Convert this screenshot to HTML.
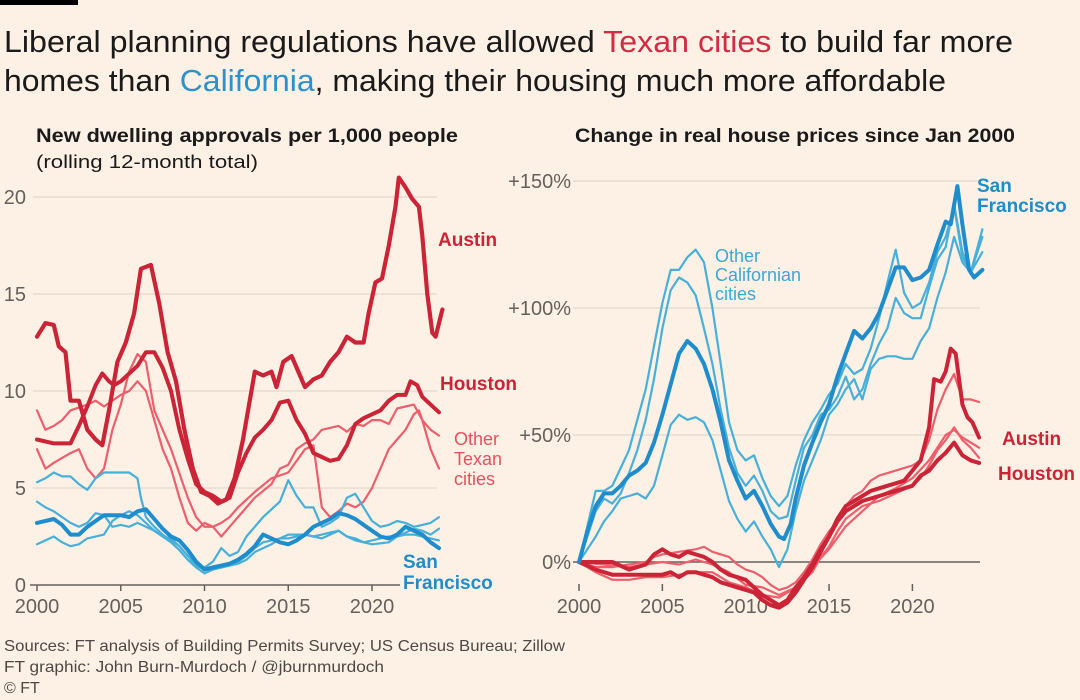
<!DOCTYPE html>
<html><head><meta charset="utf-8"><style>
body{margin:0;background:#fdf1e6;width:1080px;height:700px;overflow:hidden;font-family:"Liberation Sans",sans-serif;color:#33302e}
#c{position:absolute;left:0;top:0}
</style></head><body>
<svg id="c" width="1080" height="700" xmlns="http://www.w3.org/2000/svg" font-family="Liberation Sans, sans-serif">
<rect x="0" y="0" width="78" height="5" fill="#000"/>
<text x="4" y="52" font-size="31" fill="#1a1a1a" textLength="1009" lengthAdjust="spacingAndGlyphs">Liberal planning regulations have allowed <tspan fill="#d12c43">Texan cities</tspan> to build far more</text>
<text x="4" y="91" font-size="31" fill="#1a1a1a" textLength="942" lengthAdjust="spacingAndGlyphs">homes than <tspan fill="#2a92cf">California</tspan>, making their housing much more affordable</text>
<text x="36" y="142" font-size="19.5" font-weight="bold" fill="#1a1a1a" textLength="422" lengthAdjust="spacingAndGlyphs">New dwelling approvals per 1,000 people</text>
<text x="36" y="168" font-size="18.5" fill="#1a1a1a" textLength="222" lengthAdjust="spacingAndGlyphs">(rolling 12-month total)</text>
<text x="575" y="142" font-size="19.5" font-weight="bold" fill="#1a1a1a" textLength="440" lengthAdjust="spacingAndGlyphs">Change in real house prices since Jan 2000</text>
<g id="grid" stroke="#e8dbd0" stroke-width="1.5"></g>
<g id="axes" font-size="20" fill="#66605c"></g>
<g id="lines" fill="none" stroke-linejoin="round" stroke-linecap="round"></g>
<g font-weight="bold" font-size="19">
<text x="438" y="246" fill="#cc2437">Austin</text>
<text x="440" y="390" fill="#cc2437">Houston</text>
<text x="403" y="568" fill="#1f8ccc">San</text>
<text x="403" y="589" fill="#1f8ccc">Francisco</text>
<text x="977" y="192" fill="#1f8ccc">San</text>
<text x="977" y="212" fill="#1f8ccc">Francisco</text>
<text x="1002" y="445" fill="#cc2437">Austin</text>
<text x="998" y="480" fill="#cc2437">Houston</text>
</g>
<g font-size="18">
<text x="454" y="445" fill="#e8505f">Other</text>
<text x="454" y="465" fill="#e8505f">Texan</text>
<text x="454" y="485" fill="#e8505f">cities</text>
<text x="715" y="262" fill="#3aa8d6">Other</text>
<text x="715" y="281" fill="#3aa8d6">Californian</text>
<text x="715" y="300" fill="#3aa8d6">cities</text>
</g>
<g font-size="16" fill="#4d4845">
<text x="4" y="651" textLength="561" lengthAdjust="spacingAndGlyphs">Sources: FT analysis of Building Permits Survey; US Census Bureau; Zillow</text>
<text x="4" y="672" textLength="380" lengthAdjust="spacingAndGlyphs">FT graphic: John Burn-Murdoch / @jburnmurdoch</text>
<text x="4" y="693">© FT</text>
</g>
</svg>
<script>
const NS="http://www.w3.org/2000/svg";
function el(p,t,a,txt){const e=document.createElementNS(NS,t);for(const k in a)e.setAttribute(k,a[k]);if(txt!==undefined)e.textContent=txt;document.getElementById(p).appendChild(e);return e;}
const LX=y=>37+(y-2000)*16.75, LY=v=>585-v*19.4;
const RX=y=>579+(y-2000)*16.67, RY=v=>562-v*2.54;
[5,10,15,20].forEach(v=>el('grid','line',{x1:33,x2:437,y1:LY(v),y2:LY(v)}));
[50,100,150].forEach(v=>el('grid','line',{x1:573,x2:980,y1:RY(v),y2:RY(v)}));
el('axes','line',{x1:30,x2:400,y1:585,y2:585,stroke:'#66605c','stroke-width':1.5});
el('axes','line',{x1:573,x2:980,y1:562,y2:562,stroke:'#66605c','stroke-width':1.5});
[0,5,10,15,20].forEach(v=>el('axes','text',{x:26,y:LY(v)+7,'text-anchor':'end'},String(v)));
[[0,'0%'],[50,'+50%'],[100,'+100%'],[150,'+150%']].forEach(([v,t])=>el('axes','text',{x:571,y:RY(v)+7,'text-anchor':'end'},t));
[2000,2005,2010,2015,2020].forEach(y=>{
 el('axes','line',{x1:LX(y),x2:LX(y),y1:585,y2:591,stroke:'#66605c','stroke-width':1.5});
 el('axes','text',{x:LX(y),y:613,'text-anchor':'middle'},String(y));
 el('axes','line',{x1:RX(y),x2:RX(y),y1:584,y2:591,stroke:'#66605c','stroke-width':1.5});
 el('axes','text',{x:RX(y),y:613,'text-anchor':'middle'},String(y));
});
function pl(d,fx,fy,col,w){let pts=[];for(let i=0;i<d.length;i+=2)pts.push(fx(d[i]).toFixed(1)+','+fy(d[i+1]).toFixed(1));el('lines','polyline',{points:pts.join(' '),stroke:col,'stroke-width':w});}
const LR='#ee5e6c',DR='#cc2437',LB='#47b0da',DB='#1f8ccc';
pl([2000,9,2000.5,8,2001,8.2,2001.5,8.5,2002,9,2003,9.3,2003.5,9.5,2004,9.2,2004.5,9.5,2005,9.8,2005.5,10,2006,10.5,2006.5,10,2007,8.5,2007.5,7,2008,6,2008.5,4.5,2009,3.2,2009.5,2.8,2010,3.2,2010.5,3,2011,2.5,2011.5,3,2012,3.5,2013,4.5,2014,5.2,2014.5,6,2015,6.2,2015.5,7,2016,7.3,2016.5,7.5,2017,8,2018,8.2,2018.5,7.9,2019,8.3,2019.5,8.2,2020,8.5,2020.5,8.5,2021,8.3,2021.5,9.1,2022,9.2,2022.5,9.3,2023,8.5,2023.5,8,2024,7.7],LX,LY,LR,2.2);
pl([2000,7,2000.5,6,2001,6.3,2002,6.8,2002.5,7,2003,6,2003.5,5.5,2004,6,2004.5,8,2005,9.3,2005.5,11,2006,11.9,2006.5,11.5,2007,9,2008,7,2009,4.5,2009.5,3.5,2010,3,2010.5,3,2011,3.2,2011.5,3.5,2012,4,2013,4.8,2014,5.5,2015,5.8,2016,7,2016.5,7.2,2017,4,2017.5,3.5,2018,3.8,2018.5,4.2,2019,4,2019.5,4.3,2020,5,2020.5,6,2021,7,2021.5,7.5,2022,8,2022.5,8.8,2022.8,9,2023,8.5,2023.5,7,2024,6],LX,LY,LR,2.2);
pl([2000,5.3,2000.5,5.5,2001,5.8,2001.5,5.6,2002,5.6,2002.5,5.2,2003,4.9,2003.5,5.5,2004,5.8,2004.5,5.8,2005,5.8,2005.5,5.8,2006,5.5,2006.2,4.5,2006.5,3.5,2007,3,2007.5,2.6,2008,2.3,2008.5,2,2009,1.5,2009.5,1.1,2010,0.9,2010.5,1.2,2011,1.9,2011.5,1.5,2012,1.7,2012.5,2.5,2013,3,2013.5,3.5,2014,3.9,2014.5,4.3,2015,5.4,2015.5,4.6,2016,4,2016.5,4,2017,3,2017.5,3.2,2018,3.5,2018.5,4.5,2019,4.7,2019.5,4,2020,3.3,2020.5,3,2021,3.1,2021.5,3.3,2022,3.2,2022.5,3,2023,3.1,2023.5,3.2,2024,3.5],LX,LY,LB,2.2);
pl([2000,4.3,2000.5,4,2001,3.8,2001.5,3.5,2002,3.2,2002.5,3,2003,3.2,2003.5,3.7,2004,3.6,2004.5,3,2005,3.1,2005.5,3,2006,3.2,2006.5,3,2007,2.8,2007.5,2.5,2008,2.2,2008.5,1.8,2009,1.3,2009.5,0.9,2010,0.6,2010.5,0.8,2011,0.9,2011.5,1.1,2012,1.2,2012.5,1.5,2013,1.9,2013.5,2.2,2014,2.3,2014.5,2.4,2015,2.4,2015.5,2.5,2016,2.6,2016.5,2.5,2017,2.6,2017.5,2.7,2018,2.8,2018.5,2.5,2019,2.3,2019.5,2.2,2020,2.3,2020.5,2.4,2021,2.5,2021.5,2.5,2022,2.6,2022.5,2.6,2023,2.5,2023.5,2.4,2024,2.3],LX,LY,LB,2.2);
pl([2000,2.1,2000.5,2.3,2001,2.5,2001.5,2.2,2002,2,2002.5,2.1,2003,2.4,2004,2.6,2004.5,3.3,2005,3.6,2005.5,3.8,2006,3.6,2006.5,3.2,2007,2.8,2007.5,2.5,2008,2.4,2008.5,2,2009,1.5,2009.5,1,2010,0.8,2011,0.9,2012,1.1,2012.5,1.3,2013,1.7,2014,2.1,2014.5,2.4,2015,2.6,2016,2.6,2016.5,2.5,2017,2.4,2017.5,2.6,2018,2.8,2018.5,2.5,2019,2.4,2019.5,2.2,2020,2.1,2021,2.2,2021.5,2.5,2022,2.7,2022.5,2.9,2023,2.8,2023.5,2.6,2024,2.9],LX,LY,LB,2.2);
pl([2000,3.2,2001,3.4,2001.5,3.1,2002,2.6,2002.5,2.6,2003,3,2003.5,3.3,2004,3.6,2004.5,3.6,2005,3.6,2005.5,3.5,2006,3.8,2006.5,3.9,2007,3.4,2007.5,2.9,2008,2.5,2008.5,2.3,2009,1.8,2009.5,1.2,2010,0.8,2010.5,0.9,2011,1,2011.5,1.1,2012,1.3,2012.5,1.6,2013,2,2013.5,2.6,2014,2.4,2014.5,2.2,2015,2.1,2015.5,2.3,2016,2.6,2016.5,3,2017,3.2,2017.5,3.4,2018,3.7,2018.5,3.6,2019,3.4,2019.5,3.1,2020,2.8,2020.5,2.5,2021,2.4,2021.5,2.6,2022,3,2022.5,2.8,2023,2.6,2023.5,2.2,2024,1.9],LX,LY,DB,4);
pl([2000,7.5,2001,7.3,2002,7.3,2002.5,8.2,2003,9.2,2003.5,10.3,2003.9,10.9,2004.3,10.5,2004.6,10.3,2005,10.5,2006,11.3,2006.5,12,2007,12,2007.5,11.2,2008,10,2008.5,8,2009,6.5,2009.5,5.2,2010,4.8,2010.5,4.6,2011,4.3,2011.5,4.5,2012,5.8,2012.5,6.8,2013,7.6,2013.5,8,2014,8.5,2014.5,9.4,2015,9.5,2015.5,8.5,2016,7.8,2016.5,6.8,2017,6.6,2017.5,6.4,2018,6.5,2018.5,7.2,2019,8.3,2019.5,8.6,2020,8.8,2020.5,9,2021,9.5,2021.5,9.8,2022,9.8,2022.3,10.5,2022.7,10.3,2023,9.7,2023.5,9.3,2024,8.9],LX,LY,DR,4);
pl([2000,12.8,2000.5,13.5,2001,13.4,2001.3,12.3,2001.7,12,2002,9.5,2002.5,9.5,2003,8,2003.5,7.5,2003.9,7.2,2004.3,9,2004.8,11.5,2005.3,12.5,2005.8,14,2006.2,16.3,2006.8,16.5,2007.3,14.5,2007.8,12,2008.3,10.5,2008.8,8,2009.3,6,2009.8,4.8,2010.3,4.6,2010.8,4.2,2011.3,4.4,2011.8,5.5,2012.3,7.5,2013,11,2013.5,10.8,2014,11,2014.3,10.2,2014.7,11.5,2015.2,11.8,2015.7,10.8,2016,10.2,2016.5,10.6,2017,10.8,2017.5,11.5,2018,12,2018.5,12.8,2019,12.5,2019.5,12.5,2019.8,14,2020.2,15.6,2020.6,15.8,2021,17.5,2021.4,19.5,2021.6,21,2022,20.5,2022.4,19.9,2022.8,19.5,2023,18,2023.3,15,2023.6,13,2023.8,12.8,2024.2,14.2],LX,LY,DR,4.2);
pl([2000,0,2001,-4,2002,-7,2003,-7,2004,-6,2005,-6,2006,-5,2007,-4,2008,-4,2008.5,-6,2009,-8,2010,-10,2011,-13,2012,-14,2012.5,-12,2013,-10,2014,-4,2014.5,2,2015,6,2015.5,12,2016,17,2017,22,2018,24,2019,27,2020,30,2020.5,33,2021,38,2021.5,44,2022,48,2022.5,53,2023,48,2023.5,45,2024,41],RX,RY,LR,2.2);
pl([2000,0,2001,-2,2002,-2,2003,-1,2004,0,2004.5,2,2005,3,2006,4,2007,5,2007.5,6,2008,4,2009,2,2009.5,-1,2010,-3,2010.5,-4,2011,-6,2011.5,-9,2012,-11,2012.5,-10,2013,-8,2013.5,-4,2014,1,2014.5,7,2015,12,2015.5,16,2016,22,2016.5,26,2017,28,2017.5,32,2018,34,2019,36,2020,38,2020.5,40,2021,48,2021.5,60,2022,68,2022.5,74,2023,64,2023.5,64,2024,63],RX,RY,LR,2.2);
pl([2000,0,2003,-2,2005,0,2006,-1,2007,1,2008,-1,2009,-4,2010,-9,2011,-10,2012,-13,2013,-10,2014,-2,2015,5,2016,14,2017,20,2018,26,2019,29,2020,33,2021,40,2021.5,45,2022,50,2022.5,52,2023,49,2024,45],RX,RY,LR,2.2);
pl([2000,0,2000.5,14,2001,28,2001.5,28,2002,30,2002.5,37,2003,44,2003.5,56,2004,68,2004.5,85,2005,102,2005.5,115,2006,115,2006.5,120,2007,123,2007.5,118,2008,100,2008.5,78,2009,55,2009.5,44,2010,40,2010.5,42,2011,33,2011.5,26,2012,22,2012.5,26,2013,38,2013.5,48,2014,55,2014.5,60,2015,66,2015.5,70,2016,78,2016.5,74,2017,76,2017.5,84,2018,96,2018.5,110,2019,123,2019.5,106,2020,100,2020.5,102,2021,110,2021.5,122,2022,128,2022.5,140,2023,120,2023.5,114,2024.2,131],RX,RY,LB,2.2);
pl([2000,0,2001,20,2001.5,25,2002,23,2002.5,27,2003,35,2003.5,44,2004,56,2004.5,72,2005,92,2005.5,107,2006,112,2006.5,110,2007,105,2007.5,92,2008,78,2008.5,60,2009,45,2009.5,35,2010,30,2010.5,34,2011,28,2011.5,20,2012,17,2012.5,18,2013,32,2013.5,45,2014,50,2014.5,58,2015,60,2015.5,65,2016,73,2016.5,64,2017,68,2017.5,78,2018,86,2018.5,92,2019,104,2019.5,98,2020,96,2020.5,96,2021,108,2021.5,119,2022,124,2022.5,141,2023,122,2023.5,114,2024.2,128],RX,RY,LB,2.2);
pl([2000,0,2000.5,5,2001,10,2001.5,16,2002,20,2002.5,25,2003,26,2003.5,27,2004,25,2004.5,30,2005,42,2005.5,54,2006,58,2006.5,56,2007,57,2007.5,55,2008,48,2008.5,36,2009,24,2009.5,17,2010,12,2010.5,16,2011,10,2011.5,5,2012,-2,2012.5,5,2013,20,2013.5,32,2014,40,2014.5,48,2015,58,2015.5,62,2016,68,2016.5,72,2017,64,2017.5,76,2018,80,2018.5,81,2019,81,2019.5,80,2020,80,2020.5,87,2021,92,2021.5,104,2022,114,2022.5,128,2023,118,2023.5,114,2024.2,122],RX,RY,LB,2.2);
pl([2000,0,2001,-3,2002,-5,2003,-5,2004,-5,2005,-5,2005.5,-4,2006,-6,2006.5,-4,2007,-4,2007.5,-5,2008,-6,2008.5,-8,2009,-9,2009.5,-10,2010,-11,2010.5,-12,2011,-15,2011.5,-17,2012,-18,2012.5,-16,2013,-12,2013.5,-7,2014,-2,2014.5,4,2015,10,2015.5,16,2016,20,2016.5,22,2017,24,2017.5,25,2018,26,2018.5,27,2019,28,2019.5,29,2020,30,2020.5,34,2021,36,2021.5,40,2022,43,2022.5,47,2023,42,2023.5,40,2024,39],RX,RY,DR,4);
pl([2000,0,2001,0,2002,0,2003,-3,2004,-1,2004.5,3,2005,5,2005.5,3,2006,2,2006.5,4,2007,3,2007.5,2,2008,0,2008.5,-3,2009,-5,2009.5,-6,2010,-7,2010.5,-10,2011,-13,2011.5,-15,2012,-17,2012.5,-15,2013,-10,2013.5,-6,2014,-1,2014.5,5,2015,10,2015.5,17,2016,22,2016.5,24,2017,26,2017.5,28,2018,29,2018.5,30,2019,31,2019.5,32,2020,36,2020.5,40,2021,53,2021.3,72,2021.7,71,2022,75,2022.3,84,2022.6,82,2023,62,2023.3,57,2023.6,55,2024,49],RX,RY,DR,4);
pl([2000,0,2000.5,12,2001,22,2001.5,27,2002,27,2002.5,30,2003,34,2003.5,36,2004,39,2004.5,47,2005,58,2005.5,70,2006,82,2006.5,87,2007,84,2007.5,78,2008,68,2008.5,55,2009,40,2009.5,32,2010,25,2010.5,28,2011,22,2011.5,15,2012,10,2012.3,9,2012.7,15,2013,25,2013.5,38,2014,47,2014.5,55,2015,62,2015.5,73,2016,82,2016.5,91,2017,88,2017.5,92,2018,98,2018.5,107,2019,116,2019.5,116,2020,111,2020.5,112,2021,115,2021.5,125,2022,134,2022.3,133,2022.7,148,2023,133,2023.4,115,2023.7,112,2024.2,115],RX,RY,DB,4);
</script>
</body></html>
